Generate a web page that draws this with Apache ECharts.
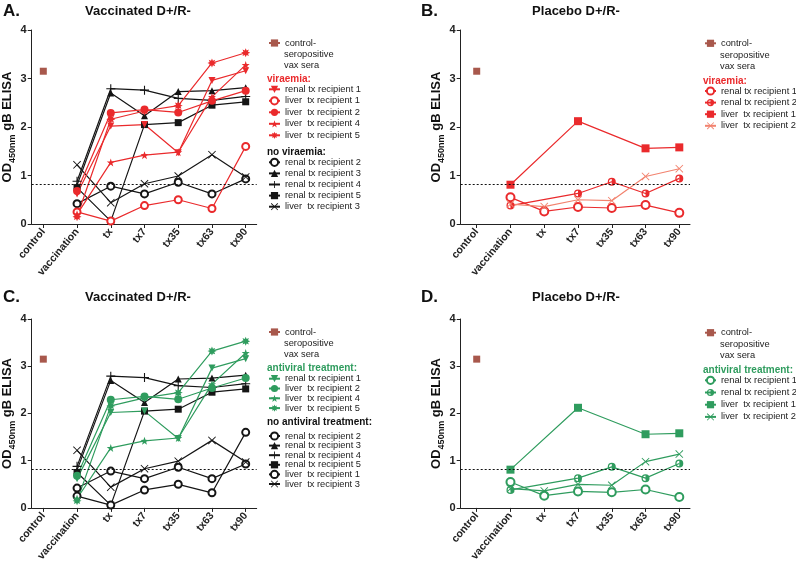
<!DOCTYPE html>
<html><head><meta charset="utf-8">
<script src="https://cdn.jsdelivr.net/npm/echarts@6/dist/echarts.min.js"></script>
<style>html,body{margin:0;padding:0;background:#fff}#c{width:796px;height:564px}</style>
</head><body><div id="c"></div>
<script>
// ---------- data ----------
const categories = ['control','vaccination','tx','tx7','tx35','tx63','tx90'];
const controlValues = [3.15, null, null, null, null, null, null];
const cutoff = 0.82;
// vaccinated D+/R-
const vaxRenal1 = [null, 0.62, 2.02, 2.05, 1.47, 2.96, 3.16];
const vaxLiver1 = [null, 0.25, 0.06, 0.38, 0.50, 0.32, 1.60];
const vaxLiver2 = [null, 0.68, 2.29, 2.36, 2.30, 2.54, 2.75];
const vaxLiver4 = [null, 0.20, 1.27, 1.42, 1.48, 2.62, 3.28];
const vaxLiver5 = [null, 0.15, 2.16, 2.33, 2.44, 3.32, 3.53];
const vaxRenal2 = [null, 0.42, 0.78, 0.62, 0.86, 0.62, 0.93];
const vaxRenal3 = [null, 0.80, 2.70, 2.23, 2.73, 2.75, 2.81];
const vaxRenal4 = [null, 0.88, 2.79, 2.76, 2.59, 2.55, 2.63];
const vaxRenal5 = [null, 0.75, 0.06, 2.05, 2.09, 2.45, 2.52];
const vaxLiver3 = [null, 1.22, 0.44, 0.83, 0.99, 1.43, 0.97];
// placebo D+/R-
const plaRenal1 = [null, 0.55, 0.26, 0.35, 0.33, 0.39, 0.23];
const plaRenal2 = [null, 0.38, null, 0.63, 0.87, 0.63, 0.94];
const plaLiver1 = [null, 0.81, null, 2.12, null, 1.56, 1.58];
const plaLiver2 = [null, 0.41, 0.36, 0.50, 0.48, 0.98, 1.14];

// ---------- styles ----------
const FONT = '"Liberation Sans", Arial, sans-serif';
const LFS = 9.3;
const RED = '#ea2a2c', SALMON = '#f2836f', GREEN = '#2f9c5e', BLACK = '#151515', BROWN = '#a8584c';
function starPath(n, inner) {
  let pts = [];
  for (let k = 0; k < 2 * n; k++) {
    const r = (k % 2 ? inner : 1) * 50;
    const a = (-90 + k * 180 / n) * Math.PI / 180;
    pts.push((50 + r * Math.cos(a)).toFixed(2) + ',' + (50 + r * Math.sin(a)).toFixed(2));
  }
  return 'path://M' + pts.join('L') + 'Z';
}
const SYM = {
  tri: 'triangle',
  triDown: 'path://M0,0L10,0L5,9Z',
  circle: 'circle', empty: 'emptyCircle', rect: 'rect',
  plus: 'path://M4.4,0H5.6V4.4H10V5.6H5.6V10H4.4V5.6H0V4.4H4.4Z',
  cross: 'path://M0.8,0L5,4.2L9.2,0L10,0.8L5.8,5L10,9.2L9.2,10L5,5.8L0.8,10L0,9.2L4.2,5L0,0.8Z',
  star: starPath(5, 0.4),
  aster: starPath(8, 0.55),
  half: 'path://M50,0A50,50,0,1,1,50,100A50,50,0,1,1,50,0ZM50,16A34,34,0,0,0,50,84Z'
};

function mk(panel, name, values, color, sym, size) {
  const empty = sym === 'emptyCircle';
  return {
    type: 'line', name: panel.key + '|' + name,
    xAxisIndex: panel.idx, yAxisIndex: panel.idx,
    data: values.map((v, i) => v == null ? null : [i, v]).filter(Boolean),
    connectNulls: true,
    symbol: sym, symbolSize: size || 7,
    color: color,
    lineStyle: { color: color, width: 1.2 },
    itemStyle: { color: color, borderColor: color, borderWidth: empty ? 1.3 : 0 },
    emphasis: { disabled: true },
    animation: false
  };
}
function ctrl(panel) {
  const s = mk(panel, 'control-', controlValues, BROWN, 'rect', 7);
  s.markLine = {
    silent: true, symbol: 'none', animation: false,
    label: { show: false },
    lineStyle: { color: '#111', type: [2, 2], width: 1 },
    data: [{ yAxis: cutoff }]
  };
  return s;
}

const PA = { key: 'A', idx: 0 }, PB = { key: 'B', idx: 1 }, PC = { key: 'C', idx: 2 }, PD = { key: 'D', idx: 3 };

const series = [
  ctrl(PA),
  mk(PA, 'renal2', vaxRenal2, BLACK, SYM.empty, 7),
  mk(PA, 'renal3', vaxRenal3, BLACK, SYM.tri, 7),
  mk(PA, 'renal4', vaxRenal4, BLACK, SYM.plus, 9),
  mk(PA, 'renal5', vaxRenal5, BLACK, SYM.rect, 7),
  mk(PA, 'liver3', vaxLiver3, BLACK, SYM.cross, 8),
  mk(PA, 'renal1', vaxRenal1, RED, SYM.triDown, 7),
  mk(PA, 'liver1', vaxLiver1, RED, SYM.empty, 7),
  mk(PA, 'liver2', vaxLiver2, RED, SYM.circle, 8),
  mk(PA, 'liver4', vaxLiver4, RED, SYM.star, 8),
  mk(PA, 'liver5', vaxLiver5, RED, SYM.aster, 9),

  ctrl(PB),
  mk(PB, 'renal1', plaRenal1, RED, SYM.empty, 8),
  mk(PB, 'renal2', plaRenal2, RED, SYM.half, 8),
  mk(PB, 'liver1', plaLiver1, RED, SYM.rect, 8),
  mk(PB, 'liver2', plaLiver2, SALMON, SYM.cross, 8),

  ctrl(PC),
  mk(PC, 'renal2', vaxRenal2, BLACK, SYM.empty, 7),
  mk(PC, 'renal3', vaxRenal3, BLACK, SYM.tri, 7),
  mk(PC, 'renal4', vaxRenal4, BLACK, SYM.plus, 9),
  mk(PC, 'renal5', vaxRenal5, BLACK, SYM.rect, 7),
  mk(PC, 'liver1', vaxLiver1, BLACK, SYM.empty, 7),
  mk(PC, 'liver3', vaxLiver3, BLACK, SYM.cross, 8),
  mk(PC, 'renal1', vaxRenal1, GREEN, SYM.triDown, 7),
  mk(PC, 'liver2', vaxLiver2, GREEN, SYM.circle, 8),
  mk(PC, 'liver4', vaxLiver4, GREEN, SYM.star, 8),
  mk(PC, 'liver5', vaxLiver5, GREEN, SYM.aster, 9),

  ctrl(PD),
  mk(PD, 'renal1', plaRenal1, GREEN, SYM.empty, 8),
  mk(PD, 'renal2', plaRenal2, GREEN, SYM.half, 8),
  mk(PD, 'liver1', plaLiver1, GREEN, SYM.rect, 8),
  mk(PD, 'liver2', plaLiver2, GREEN, SYM.cross, 8)
];

const legendLabels = {
  'control-': 'control-',
  renal1: 'renal tx recipient 1', renal2: 'renal tx recipient 2', renal3: 'renal tx recipient 3',
  renal4: 'renal tx recipient 4', renal5: 'renal tx recipient 5',
  liver1: 'liver  tx recipient 1', liver2: 'liver  tx recipient 2', liver3: 'liver  tx recipient 3',
  liver4: 'liver  tx recipient 4', liver5: 'liver  tx recipient 5'
};

function legend(panel, keys, left, centerFirst, lh) {
  return {
    orient: 'vertical', left: left, top: centerFirst - lh / 2,
    padding: 0, itemGap: 0, itemWidth: 11, itemHeight: 9,
    selectedMode: false,
    data: keys.map(k => panel.key + '|' + k),
    formatter: n => legendLabels[n.split('|')[1]],
    textStyle: { fontFamily: FONT, fontSize: LFS, color: '#222', lineHeight: lh, padding: 0, width: 100, overflow: 'none' }
  };
}

// grids
const grids = [
  { left: 31.7, top: 30, width: 225, height: 194 },
  { left: 460.7, top: 30, width: 229.3, height: 194 },
  { left: 31.7, top: 319, width: 225, height: 193 },
  { left: 460.7, top: 319, width: 229.3, height: 193 }
];
const xRanges = [[-0.344, 6.326], [-0.474, 6.317], [-0.344, 6.326], [-0.474, 6.317]];
const catIdx = categories.map((c, i) => i);

const xAxes = grids.map((g, i) => ({
  type: 'value', gridIndex: i, min: xRanges[i][0], max: xRanges[i][1],
  axisLine: { show: true, onZero: false, lineStyle: { color: '#222', width: 1 } },
  axisTick: { show: true, customValues: catIdx, length: 4, lineStyle: { color: '#222' } },
  axisLabel: {
    customValues: catIdx, formatter: v => categories[Math.round(v)],
    rotate: 50, fontFamily: FONT, fontWeight: 'bold', fontSize: 10.5, color: '#222', margin: 6
  },
  splitLine: { show: false }
}));
const yAxes = grids.map((g, i) => ({
  type: 'value', gridIndex: i, min: 0, max: 4, interval: 1,
  axisLine: { show: true, onZero: false, lineStyle: { color: '#222', width: 1 } },
  axisTick: { show: true, length: 4, lineStyle: { color: '#222' } },
  axisLabel: { fontFamily: FONT, fontWeight: 'bold', fontSize: 11, color: '#222', margin: 5 },
  splitLine: { show: false },
  name: '{a|OD}{b|450nm}{a| gB ELISA}',
  nameLocation: 'middle', nameRotate: 90, nameGap: 15,
  nameTextStyle: {
    rich: {
      a: { fontFamily: FONT, fontWeight: 'bold', fontSize: 13, color: '#111', lineHeight: 18, verticalAlign: 'middle' },
      b: { fontFamily: FONT, fontWeight: 'bold', fontSize: 9, color: '#111', lineHeight: 18, verticalAlign: 'bottom' }
    }
  }
}));

function txt(x, y, text, size, weight, color, align) {
  return {
    type: 'text', x: x, y: y, silent: true,
    style: {
      text: text, fill: color || '#222',
      font: (weight || 'normal') + ' ' + size + 'px ' + FONT,
      textAlign: align || 'left', textVerticalAlign: 'middle',
      align: align || 'left', verticalAlign: 'middle'
    }
  };
}

const graphics = [
  txt(3, 11, 'A.', 17, 'bold', '#111'),
  txt(138, 11, 'Vaccinated D+/R-', 13, 'bold', '#111', 'center'),
  txt(421, 11, 'B.', 17, 'bold', '#111'),
  txt(576, 11, 'Placebo D+/R-', 13, 'bold', '#111', 'center'),
  txt(3, 297, 'C.', 17, 'bold', '#111'),
  txt(138, 297, 'Vaccinated D+/R-', 13, 'bold', '#111', 'center'),
  txt(421, 297, 'D.', 17, 'bold', '#111'),
  txt(576, 297, 'Placebo D+/R-', 13, 'bold', '#111', 'center'),
  // A legend extras
  txt(284, 54.5, 'seropositive', LFS), txt(284, 65.5, 'vax sera', LFS),
  txt(267, 79, 'viraemia:', 10, 'bold', RED),
  txt(267, 152, 'no viraemia:', 10, 'bold', '#111'),
  // B
  txt(720, 55, 'seropositive', LFS), txt(720, 66, 'vax sera', LFS),
  txt(703, 81, 'viraemia:', 10, 'bold', RED),
  // C
  txt(284, 343.5, 'seropositive', LFS), txt(284, 354, 'vax sera', LFS),
  txt(267, 368, 'antiviral treatment:', 10, 'bold', GREEN),
  txt(267, 422.7, 'no antiviral treatment:', 10, 'bold', '#111'),
  // D
  txt(720, 344.3, 'seropositive', LFS), txt(720, 355.3, 'vax sera', LFS),
  txt(703, 370.3, 'antiviral treatment:', 10, 'bold', GREEN)
];

const legends = [
  legend(PA, ['control-'], 268, 43, 11),
  legend(PA, ['renal1', 'liver1', 'liver2', 'liver4', 'liver5'], 268, 89.3, 11.5),
  legend(PA, ['renal2', 'renal3', 'renal4', 'renal5', 'liver3'], 268, 162.3, 11.1),
  legend(PB, ['control-'], 704, 43.3, 11),
  legend(PB, ['renal1', 'renal2', 'liver1', 'liver2'], 704, 91, 11.6),
  legend(PC, ['control-'], 268, 332, 11),
  legend(PC, ['renal1', 'liver2', 'liver4', 'liver5'], 268, 378.7, 9.8),
  legend(PC, ['renal2', 'renal3', 'renal4', 'renal5', 'liver1', 'liver3'], 268, 436, 9.6),
  legend(PD, ['control-'], 704, 332.7, 11),
  legend(PD, ['renal1', 'renal2', 'liver1', 'liver2'], 704, 380.3, 12.2)
];

const chart = echarts.init(document.getElementById('c'), null, { renderer: 'canvas' });
chart.setOption({
  animation: false,
  backgroundColor: '#fff',
  grid: grids,
  xAxis: xAxes,
  yAxis: yAxes,
  legend: legends,
  graphic: graphics,
  series: series
});
</script>
</body></html>
